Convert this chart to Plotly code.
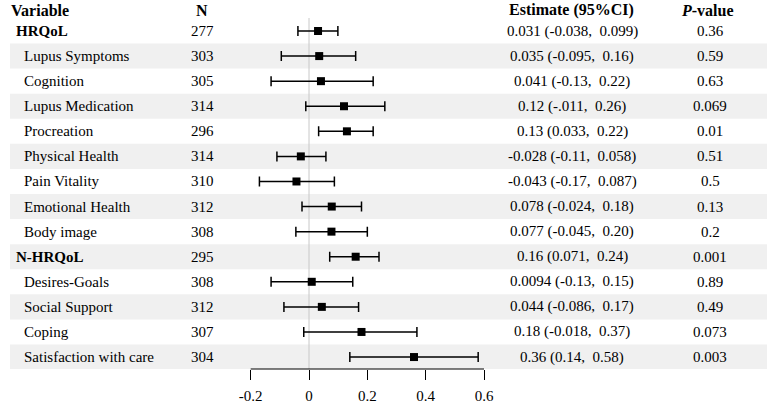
import plotly.graph_objects as go

variables = ["HRQoL", "Lupus Symptoms", "Cognition", "Lupus Medication", "Procreation",
             "Physical Health", "Pain Vitality", "Emotional Health", "Body image",
             "N-HRQoL", "Desires-Goals", "Social Support", "Coping", "Satisfaction with care"]
is_group = [True, False, False, False, False, False, False, False, False,
            True, False, False, False, False]
n_values = [277, 303, 305, 314, 296, 314, 310, 312, 308, 295, 308, 312, 307, 304]
estimates = [0.031, 0.035, 0.041, 0.12, 0.13, -0.028, -0.043, 0.078, 0.077,
             0.16, 0.0094, 0.044, 0.18, 0.36]
lower = [-0.038, -0.095, -0.13, -0.011, 0.033, -0.11, -0.17, -0.024, -0.045,
         0.071, -0.13, -0.086, -0.018, 0.14]
upper = [0.099, 0.16, 0.22, 0.26, 0.22, 0.058, 0.087, 0.18, 0.20,
         0.24, 0.15, 0.17, 0.37, 0.58]
est_labels = ["0.031 (-0.038,  0.099)", "0.035 (-0.095,  0.16)", "0.041 (-0.13,  0.22)",
              "0.12 (-.011,  0.26)", "0.13 (0.033,  0.22)", "-0.028 (-0.11,  0.058)",
              "-0.043 (-0.17,  0.087)", "0.078 (-0.024,  0.18)", "0.077 (-0.045,  0.20)",
              "0.16 (0.071,  0.24)", "0.0094 (-0.13,  0.15)", "0.044 (-0.086,  0.17)",
              "0.18 (-0.018,  0.37)", "0.36 (0.14,  0.58)"]
p_values = ["0.36", "0.59", "0.63", "0.069", "0.01", "0.51", "0.5", "0.13", "0.2",
            "0.001", "0.89", "0.49", "0.073", "0.003"]
tick_vals = [-0.2, 0, 0.2, 0.4, 0.6]
tick_text = ["-0.2", "0", "0.2", "0.4", "0.6"]

W, H = 767, 408
FONT = "'Times New Roman', 'Liberation Serif', serif"
rows = list(range(len(variables)))

# pixel geometry
x0_px, unit_px = 309.0, 291.67          # px of value 0, px per 1.0
row0_px, row_step = 31.0, 25.08
plot_bottom = 369.0
xr = [(0 - x0_px) / unit_px, (W - x0_px) / unit_px]
yr = [(plot_bottom - row0_px) / row_step, (0 - row0_px) / row_step]
header_r = (10 - row0_px) / row_step

fig = go.Figure()

shapes = []
for r in rows:
    if r % 2 == 1:
        shapes.append(dict(type="rect", xref="paper", yref="y", x0=10 / W, x1=1,
                           y0=r - 0.5, y1=r + 0.5, fillcolor="#f0f0f0",
                           line=dict(width=0), layer="below"))
shapes.append(dict(type="line", xref="x", yref="y", x0=0, x1=0,
                   y0=(18 - row0_px) / row_step, y1=yr[0],
                   line=dict(color="#c8c8c8", width=1), layer="below"))
shapes.append(dict(type="line", xref="x", yref="paper", x0=tick_vals[0], x1=tick_vals[-1],
                   y0=0, y1=0, line=dict(color="black", width=1)))

fig.add_trace(go.Scatter(
    x=estimates, y=rows, mode="markers",
    marker=dict(symbol="square", size=8, color="black"),
    error_x=dict(type="data", symmetric=False,
                 array=[u - e for u, e in zip(upper, estimates)],
                 arrayminus=[e - l for e, l in zip(estimates, lower)],
                 color="black", thickness=1.5, width=5),
    showlegend=False, hoverinfo="skip"))

ann = []
def txt(xpx, r, s, anchor="left", size=15, bold=False):
    ann.append(dict(xref="paper", yref="y", x=xpx / W, y=r, text=f"<b>{s}</b>" if bold else s,
                    showarrow=False, xanchor=anchor, yanchor="middle",
                    font=dict(family=FONT, size=size, color="black")))

txt(9, header_r, "Variable", bold=True, size=16)
txt(202, header_r, "N", anchor="center", bold=True, size=16)
txt(571, header_r, "Estimate (95%CI)", anchor="center", bold=True, size=16)
txt(707, header_r, "<i>P</i>-value", anchor="center", bold=True, size=16)
for r in rows:
    if is_group[r]:
        txt(14, r, variables[r], bold=True)
    else:
        txt(22, r, variables[r])
    txt(202, r, str(n_values[r]), anchor="center")
    txt(572, r, est_labels[r], anchor="center")
    txt(710, r, p_values[r], anchor="center")

fig.update_layout(
    width=W, height=H, margin=dict(l=0, r=0, t=0, b=H - plot_bottom),
    paper_bgcolor="white", plot_bgcolor="white",
    font=dict(family=FONT, color="black"),
    shapes=shapes, annotations=ann,
    xaxis=dict(range=xr, tickvals=tick_vals, ticktext=tick_text, ticks="outside",
               ticklen=10, tickcolor="black", tickwidth=1, showgrid=False,
               zeroline=False, showline=False, ticklabelstandoff=3,
               tickfont=dict(family=FONT, size=15, color="black")),
    yaxis=dict(range=yr, showgrid=False, zeroline=False, showticklabels=False,
               showline=False),
)
fig.write_html("out.html")
